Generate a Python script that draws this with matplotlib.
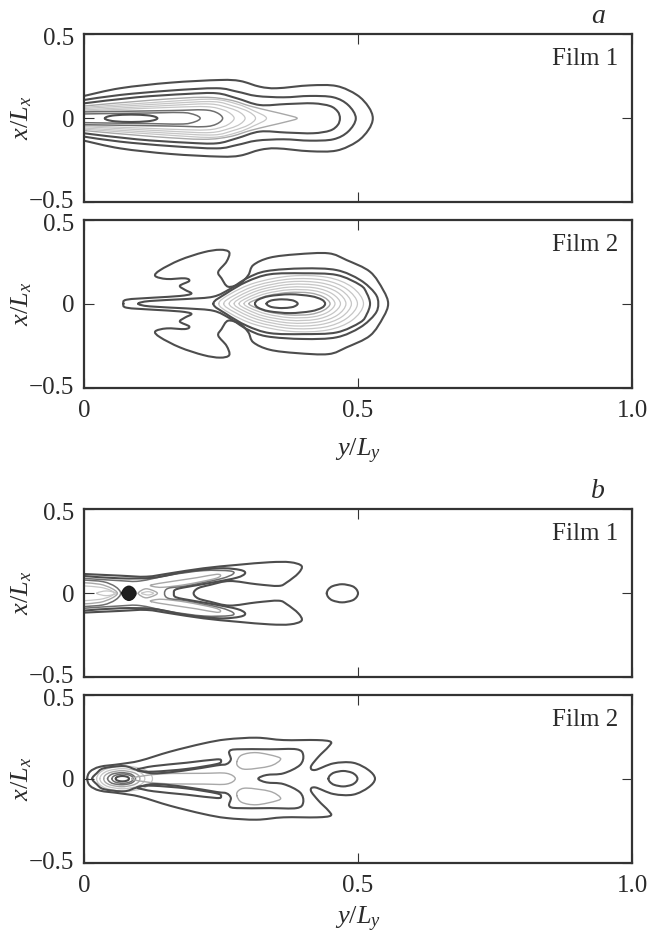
import numpy as np
import matplotlib
matplotlib.use("Agg")
import matplotlib.pyplot as plt
from matplotlib.path import Path
from matplotlib.patches import PathPatch
from matplotlib.transforms import ScaledTranslation

plt.rcParams['font.family'] = ['Liberation Serif', 'DejaVu Serif']
plt.rcParams['mathtext.fontset'] = 'custom'
plt.rcParams['mathtext.rm'] = 'Liberation Serif'
plt.rcParams['mathtext.it'] = 'Liberation Serif:italic'

# contour outlines: (y/Ly, x/Lx), upper half only
# panel a, film 1
a1_c1 = ([0, .066, .157, .248, .285, .321, .352, .412, .461, .498, .519, .527],
         [.133, .179, .212, .228, .222, .188, .179, .196, .192, .139, .069, 0])
a1_c2 = ([0, .066, .157, .242, .279, .315, .364, .412, .455, .482, .496],
         [.109, .139, .165, .179, .159, .133, .125, .133, .125, .079, 0])
a1_c3 = ([0, .096, .187, .242, .279, .321, .370, .418, .449, .463, .467],
         [.089, .125, .145, .149, .119, .079, .085, .089, .073, .040, 0])
a1_c4 = ([0, .127, .218, .266, .303, .339, .370, .389],
         [.073, .109, .125, .109, .073, .044, .020, 0])
a1_c5 = ([0, .157, .236, .279, .309, .333],
         [.065, .101, .113, .085, .046, 0])
a1_c6 = ([0, .157, .236, .272, .300, .313],
         [.058, .089, .099, .073, .040, 0])
a1_c7 = ([0, .157, .230, .266, .285, .294],
         [.050, .077, .085, .060, .034, 0])
a1_c8 = ([0, .157, .224, .254, .268, .274],
         [.044, .065, .069, .050, .026, 0])
a1_c9 = ([0, .157, .218, .242, .253],
         [.038, .046, .050, .034, 0])
a1_c10 = ([0, .127, .181, .203, .212],
          [.026, .032, .034, .020, 0])
a1_c11 = ([.038, .043, .057, .086, .115, .129, .134],
          [0, .010, .018, .022, .018, .010, 0])

# panel a, film 2
a2_c1 = ([.072, .078, .127, .175, .196, .184, .175, .192, .184, .151, .130, .139, .175, .218, .248, .265,
          .260, .245, .251, .263, .285, .300, .309, .339, .388, .446, .479, .522, .546, .555],
         [0, .024, .036, .046, .060, .083, .107, .135, .151, .147, .165, .200, .260, .306, .321, .306,
          .250, .190, .151, .101, .121, .171, .230, .274, .294, .300, .260, .190, .081, 0])
a2_c2 = ([.099, .120, .187, .236, .266, .297, .333, .400, .461, .504, .531, .537],
         [0, .016, .028, .042, .087, .151, .194, .210, .200, .141, .062, 0])
a2_c3 = ([.236, .260, .297, .339, .400, .461, .504, .516, .522],
         [0, .062, .131, .175, .181, .171, .111, .062, 0])
a2_r1 = ([.246, .267, .312, .378, .444, .489, .510], [0, .058, .124, .165, .157, .099, 0])
a2_r2 = ([.255, .275, .316, .377, .438, .479, .499], [0, .051, .110, .147, .140, .088, 0])
a2_r3 = ([.265, .283, .321, .377, .432, .470, .488], [0, .046, .098, .131, .124, .079, 0])
a2_r4 = ([.274, .290, .325, .376, .427, .462, .478], [0, .040, .086, .115, .109, .069, 0])
a2_r5 = ([.283, .298, .329, .376, .422, .453, .468], [0, .035, .074, .099, .094, .059, 0])
a2_r6 = ([.292, .305, .334, .375, .417, .445, .458], [0, .029, .062, .083, .079, .050, 0])
a2_r7 = ([.301, .313, .338, .375, .412, .437, .449], [0, .023, .050, .067, .064, .040, 0])
a2_r8 = ([.312, .318, .338, .376, .414, .434, .440], [0, .024, .045, .056, .045, .024, 0])
a2_r9 = ([.333, .336, .344, .361, .379, .387, .390], [0, .011, .021, .026, .021, .011, 0])

# panel b, film 1
b1_c1 = ([0, .066, .114, .157, .218, .279, .339, .376, .397, .391, .370, .355, .315, .266, .230, .208, .200],
         [.115, .105, .099, .119, .149, .169, .185, .185, .163, .119, .065, .044, .054, .073, .050, .030, 0])
b1_c2 = ([0, .066, .127, .187, .248, .285, .294, .279, .236, .181, .166, .164],
         [.103, .089, .093, .129, .149, .139, .119, .093, .065, .034, .020, 0])
b1_c3 = ([0, .066, .102, .157, .218, .266, .272, .248, .187, .154, .147],
         [.089, .075, .073, .109, .135, .133, .115, .085, .044, .030, 0])
b1_band = ([.123, .157, .206, .242, .249, .236, .187, .145, .127],
           [.050, .069, .093, .113, .103, .085, .053, .036, .040])
b1_l1 = ([0, .035, .057, .067], [.079, .069, .040, 0])
b1_l2 = ([0, .029, .050, .061], [.063, .054, .030, 0])
b1_l3 = ([0, .029, .047, .055], [.044, .036, .020, 0])
b1_l4 = ([.023, .041, .060], [0, .014, 0])
b1_spot = ([.069, .074, .082, .090, .095], [0, .030, .042, .030, 0])
b1_lens1 = ([.099, .111, .123, .134], [0, .026, .020, 0])
b1_lens2 = ([.105, .117, .127], [0, .010, 0])
b1_island = ([.443, .446, .454, .471, .489, .497, .500], [0, .024, .043, .054, .043, .024, 0])

# panel b, film 2
b2_c1 = ([.006, .011, .029, .066, .102, .157, .218, .260, .315, .364, .425, .450, .446, .428, .414, .422,
          .455, .491, .519, .531],
         [0, .042, .071, .087, .107, .161, .210, .234, .244, .230, .230, .220, .190, .131, .071, .052,
          .091, .095, .052, 0])
b2_c2 = ([.015, .023, .036, .073, .097, .128, .182, .242, .260, .268, .265, .279, .339, .388, .400, .394,
          .364, .333, .318],
         [0, .032, .062, .075, .052, .032, .048, .079, .087, .115, .161, .175, .175, .175, .141, .081,
          .032, .022, 0])
b2_band = ([.099, .127, .187, .242, .250, .242, .187, .127, .102],
           [.056, .075, .095, .115, .105, .087, .058, .042, .046])
b2_mid = ([.087, .139, .218, .260, .276], [0, .028, .032, .032, 0])
b2_lobe = ([.279, .288, .315, .352, .358, .339, .297, .282],
           [.101, .141, .155, .131, .111, .075, .056, .071])
b2_r1 = ([.023, .028, .043, .074, .105, .120, .125], [0, .033, .060, .075, .060, .033, 0])
b2_r2 = ([.029, .033, .045, .070, .095, .107, .111], [0, .026, .048, .060, .048, .026, 0])
b2_r3 = ([.036, .039, .049, .069, .089, .099, .102], [0, .021, .038, .048, .038, .021, 0])
b2_r4 = ([.043, .046, .053, .069, .084, .091, .094], [0, .016, .029, .036, .029, .016, 0])
b2_r5 = ([.051, .053, .059, .071, .082, .088, .090], [0, .012, .022, .028, .022, .012, 0])
b2_r6 = ([.058, .059, .063, .070, .077, .081, .082], [0, .007, .013, .016, .013, .007, 0])
b2_hole = ([.446, .449, .457, .473, .488, .496, .499], [0, .020, .037, .046, .037, .020, 0])

x_ticks = [0, 0.5, 1.0]
x_tick_labels = ['0', '0.5', '1.0']
y_ticks = [-0.5, 0, 0.5]
y_tick_labels = ['\u22120.5', '0', '0.5']

dark = ('#4d4d4d', 1.5)
mid = ('#6e6e6e', 1.1)
light = ('#a8a8a8', 1.0)
pale = ('#c6c6c6', 0.9)

# (outline, style, is it a loop away from the centre line)
panel_a1 = [(a1_c4, light, 0), (a1_c5, pale, 0), (a1_c6, pale, 0), (a1_c7, pale, 0), (a1_c8, pale, 0),
            (a1_c9, mid, 0), (a1_c10, mid, 0), (a1_c11, dark, 0),
            (a1_c3, dark, 0), (a1_c2, dark, 0), (a1_c1, dark, 0)]
panel_a2 = [(a2_r1, pale, 0), (a2_r2, pale, 0), (a2_r3, pale, 0), (a2_r4, pale, 0), (a2_r5, pale, 0),
            (a2_r6, pale, 0), (a2_r7, light, 0), (a2_r8, dark, 0), (a2_r9, dark, 0),
            (a2_c3, dark, 0), (a2_c2, dark, 0), (a2_c1, dark, 0)]
panel_b1 = [(b1_l4, pale, 0), (b1_l3, pale, 0), (b1_l2, light, 0), (b1_l1, mid, 0),
            (b1_lens2, pale, 0), (b1_lens1, light, 0), (b1_band, light, 1),
            (b1_c3, mid, 0), (b1_c2, dark, 0), (b1_c1, dark, 0), (b1_island, dark, 0)]
panel_b2 = [(b2_r1, pale, 0), (b2_r2, pale, 0), (b2_r3, light, 0), (b2_r4, mid, 0), (b2_r5, mid, 0),
            (b2_r6, dark, 0), (b2_mid, light, 0), (b2_lobe, light, 1), (b2_band, dark, 1),
            (b2_hole, dark, 0), (b2_c2, dark, 0), (b2_c1, dark, 0)]


def smooth_path(y, x, closed):
    # bezier segments through the read points
    pts = np.column_stack([y, x])
    n = len(pts)
    verts = [pts[0]]
    codes = [Path.MOVETO]
    for i in range(n if closed else n - 1):
        p0 = pts[(i - 1) % n] if closed or i > 0 else pts[i]
        p1 = pts[i]
        p2 = pts[(i + 1) % n]
        p3 = pts[(i + 2) % n] if closed or i + 2 < n else p2
        verts += [p1 + (p2 - p0) / 6, p2 - (p3 - p1) / 6, p2]
        codes += [Path.CURVE4] * 3
    return Path(verts, codes)


def draw_contour(ax, outline, style, loop, fill='none'):
    y, x = np.array(outline[0], float), np.array(outline[1], float)
    color, lw = style
    if loop:
        shapes = [(y, x, True), (y, -x, True)]
    elif x[0] == 0:
        shapes = [(np.r_[y, y[-2:0:-1]], np.r_[x, -x[-2:0:-1]], True)]
    else:
        shapes = [(np.r_[y, y[-2::-1]], np.r_[x, -x[-2::-1]], False)]
    for yy, xx, closed in shapes:
        ax.add_patch(PathPatch(smooth_path(yy, xx, closed), facecolor=fill, edgecolor=color, lw=lw,
                               capstyle='round', joinstyle='round'))


def make_axes(fig, top_px, bottom_px, film, xlabel_drop=None):
    ax = fig.add_axes([84 / 652, 1 - bottom_px / 930, 548 / 652, (bottom_px - top_px) / 930])
    ax.set_xlim(0, 1)
    ax.set_ylim(-0.5, 0.5)
    ax.set_xticks(x_ticks)
    ax.set_yticks(y_ticks)
    ax.set_yticklabels(y_tick_labels)
    ax.set_xticklabels(x_tick_labels if xlabel_drop else [])
    ax.tick_params(direction='in', length=7, width=0.8, top=True, right=True, labelsize=18,
                   pad=7, color='#333333', labelcolor='#2b2b2b')
    ax.tick_params(axis='x', pad=9)
    # end labels sit a little inside the frame so they clear the next panel
    for lab, dy in zip(ax.get_yticklabels(), [2.5, 0, -2.5]):
        lab.set_transform(lab.get_transform() + ScaledTranslation(0, dy / 100, fig.dpi_scale_trans))
    for s in ax.spines.values():
        s.set_linewidth(1.6)
        s.set_color('#333333')
    ax.set_ylabel('$x/L_x$', fontsize=19, color='#2b2b2b')
    ax.yaxis.set_label_coords(-50 / 548, 0.5)
    if xlabel_drop:
        ax.set_xlabel('$y/L_y$', fontsize=19, color='#2b2b2b')
        ax.xaxis.set_label_coords(0.5, -xlabel_drop / 168)
    ax.text(534 / 548, 1 - 31 / 168, film, ha='right', va='baseline', fontsize=18, color='#2b2b2b',
            transform=ax.transAxes)
    return ax


fig = plt.figure(figsize=(6.52, 9.30), dpi=100)

ax1 = make_axes(fig, 34.3, 202.3, 'Film 1')
ax2 = make_axes(fig, 219.7, 387.7, 'Film 2', 49)
ax3 = make_axes(fig, 509.3, 677.3, 'Film 1')
ax4 = make_axes(fig, 694.7, 862.7, 'Film 2', 42)

for ax, panel in zip([ax1, ax2, ax3, ax4], [panel_a1, panel_a2, panel_b1, panel_b2]):
    for outline, style, loop in panel:
        draw_contour(ax, outline, style, loop)
draw_contour(ax3, b1_spot, ('#1a1a1a', 1.0), 0, fill='#1f1f1f')

fig.text(598 / 652, 1 - 23 / 930, 'a', fontsize=20, style='italic', ha='center', va='baseline', color='#2b2b2b')
fig.text(598 / 652, 1 - 498 / 930, 'b', fontsize=20, style='italic', ha='center', va='baseline', color='#2b2b2b')

fig.savefig('out.png', dpi=100)
